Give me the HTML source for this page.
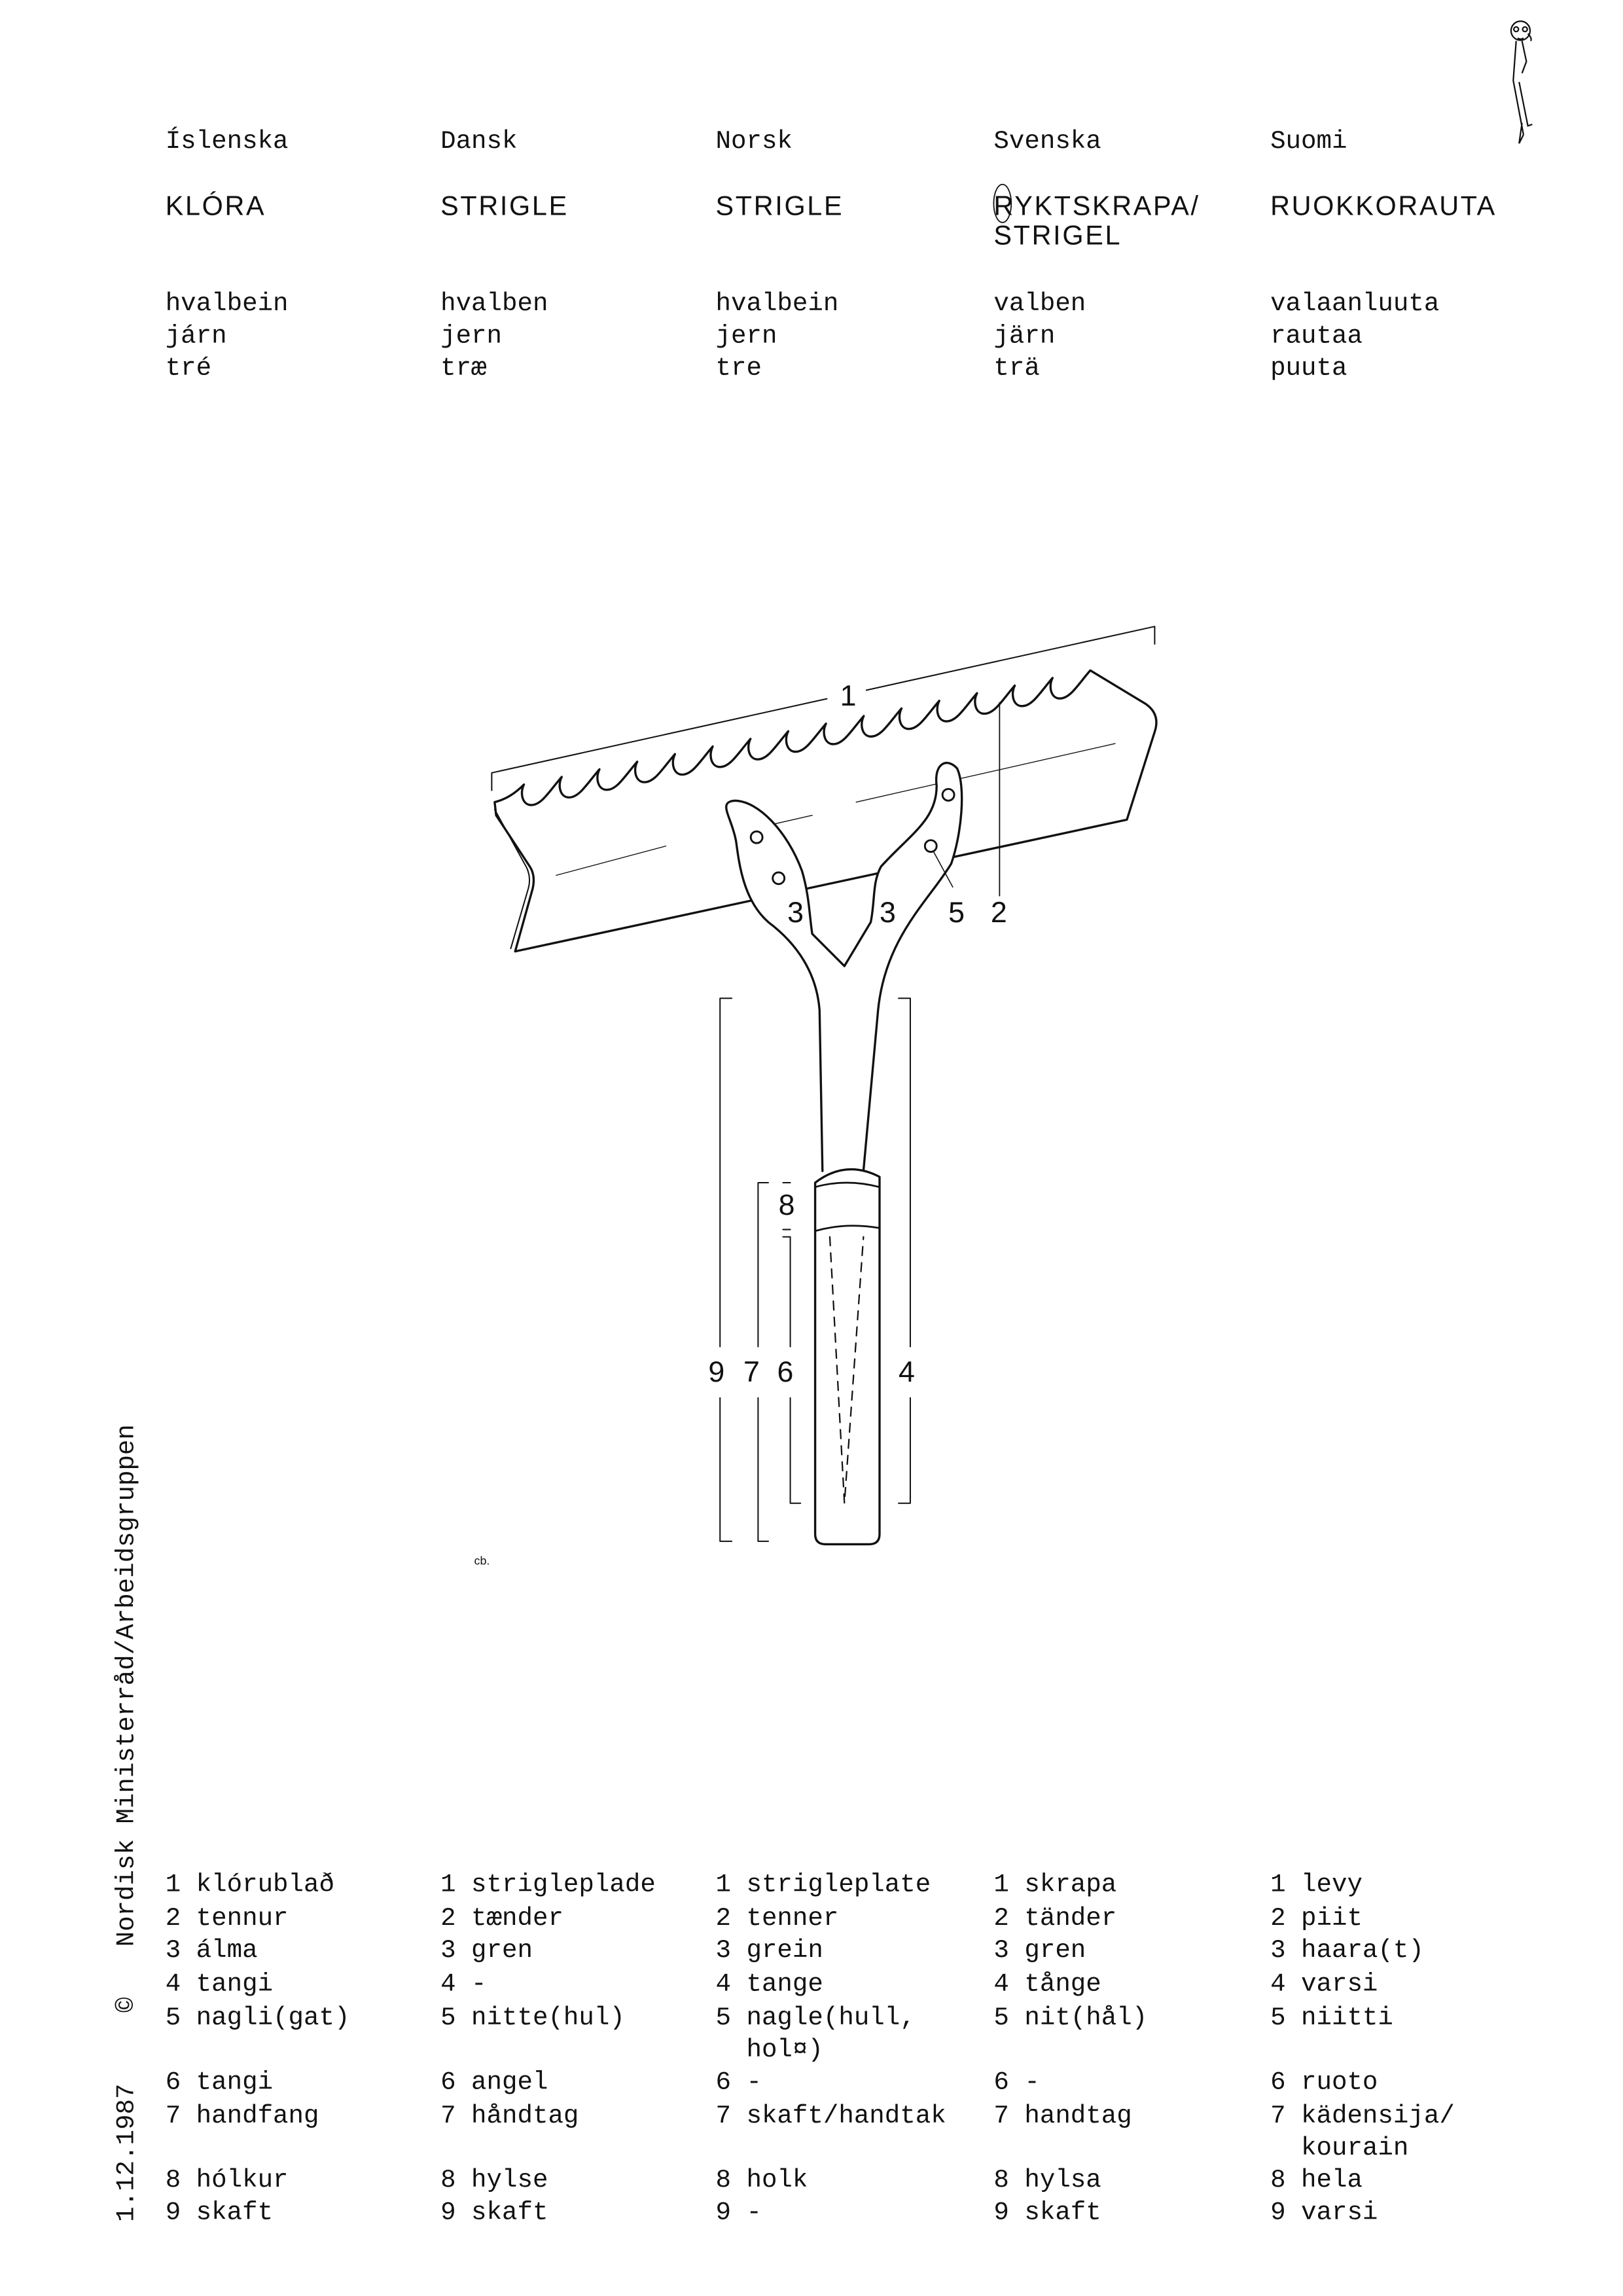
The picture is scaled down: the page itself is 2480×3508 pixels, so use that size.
<!DOCTYPE html>
<html><head><meta charset="utf-8"><style>
html,body{margin:0;padding:0;background:#fff;}
svg{display:block;}
.m{font-family:"Liberation Mono",monospace;font-size:17.5px;fill:#111;}
.s{font-family:"Liberation Sans",sans-serif;font-size:18.5px;fill:#111;letter-spacing:1.2px;}
.n{font-family:"Liberation Sans",sans-serif;font-size:20px;fill:#111;}
</style></head><body>
<svg width="2480" height="3508" viewBox="0 0 1109 1568.6" preserveAspectRatio="none" xmlns="http://www.w3.org/2000/svg">
<rect width="1109" height="1569" fill="#fff"/>
<g class="m">
<text x="113" y="101">Íslenska</text><text x="301" y="101">Dansk</text><text x="489" y="101">Norsk</text><text x="679" y="101">Svenska</text><text x="868" y="101">Suomi</text>
<text x="113" y="212">hvalbein</text><text x="301" y="212">hvalben</text><text x="489" y="212">hvalbein</text><text x="679" y="212">valben</text><text x="868" y="212">valaanluuta</text>
<text x="113" y="234">járn</text><text x="301" y="234">jern</text><text x="489" y="234">jern</text><text x="679" y="234">järn</text><text x="868" y="234">rautaa</text>
<text x="113" y="256">tré</text><text x="301" y="256">træ</text><text x="489" y="256">tre</text><text x="679" y="256">trä</text><text x="868" y="256">puuta</text>
</g>
<g class="s">
<text x="113" y="147">KLÓRA</text><text x="301" y="147">STRIGLE</text><text x="489" y="147">STRIGLE</text><text x="679" y="147">RYKTSKRAPA/</text><text x="679" y="167">STRIGEL</text><text x="868" y="147">RUOKKORAUTA</text>
</g>
<ellipse cx="685" cy="139" rx="6" ry="13" fill="none" stroke="#111" stroke-width="0.8"/>

<!-- doodle -->
<g fill="none" stroke="#111" stroke-width="1">
<circle cx="1039" cy="21" r="6.5"/><circle cx="1036" cy="20" r="1.6"/><circle cx="1042" cy="20" r="1.6"/>
<path d="M1037,26 q2,1.5 4,0 M1044,23 q3,3 2,5 M1036,28 L1034,55 L1041,92 M1040,28 L1043,42 L1040,50 M1038,56 L1044,86 L1047,85 M1040,84 L1038,98 L1041,92"/>
</g>

<!-- drawing -->
<g fill="none" stroke="#111" stroke-linejoin="round" stroke-linecap="round">
<path d="M336,540 L336,528 L565,477.4 M592,471.5 L789,428 L789,440" stroke-width="0.9" fill="none"/>
<path d="M338,548 c8,-2 14,-6 20,-12
 c-3,6 -1,14 5,14 c7,0 12,-9 20.8,-19.2
 c-3,6 -1,14 5,14 c7,0 12,-9 20.8,-19.2
 c-3,6 -1,14 5,14 c7,0 12,-9 20.8,-19.2
 c-3,6 -1,14 5,14 c7,0 12,-9 20.8,-19.2
 c-3,6 -1,14 5,14 c7,0 12,-9 20.8,-19.2
 c-3,6 -1,14 5,14 c7,0 12,-9 20.8,-19.2
 c-3,6 -1,14 5,14 c7,0 12,-9 20.8,-19.2
 c-3,6 -1,14 5,14 c7,0 12,-9 20.8,-19.2
 c-3,6 -1,14 5,14 c7,0 12,-9 20.8,-19.2
 c-3,6 -1,14 5,14 c7,0 12,-9 20.8,-19.2
 c-3,6 -1,14 5,14 c7,0 12,-9 20.8,-19.2
 c-3,6 -1,14 5,14 c7,0 12,-9 20.8,-19.2
 c-3,6 -1,14 5,14 c7,0 12,-9 20.8,-19.2
 c-3,6 -1,14 5,14 c7,0 12,-9 20.8,-19.2
 c-3,6 -1,14 5,14 c7,0 12,-9 20.8,-19.2
 L783,481 Q793,488 789,500 L770,560 L352,650 L364,607 Q366,598 362,592 L339,557 Z" fill="#fff" stroke-width="1.5"/>
<path d="M338,553 L360,593 Q363,600 361,607 L349,648" stroke-width="0.9"/>
<path d="M380,598 L455,578 M520,565 L555,557 M585,548 L762,508" stroke-width="0.6"/>
<path d="M683,480 L683,612" stroke-width="0.8"/>
<path d="M562,800 L560,690 C558,665 545,645 525,630 C508,615 505,590 503,575 C500,558 490,548 502,547 C518,547 538,568 548,595 C553,612 553,625 555,638 L577,660 L595,630 C598,615 596,603 602,592 C622,570 640,560 640,537 C638,520 648,518 654,525 C660,538 657,570 650,590 C635,615 605,640 600,690 L590,800" fill="#fff" stroke-width="1.5"/>
<circle cx="517" cy="572" r="4" stroke-width="1.3"/><circle cx="532" cy="600" r="4" stroke-width="1.3"/>
<circle cx="648" cy="543" r="4" stroke-width="1.3"/><circle cx="636" cy="578" r="4" stroke-width="1.3"/>
<path d="M638,582 L651,606" stroke-width="0.7"/>
<!-- ferrule & handle -->
<path d="M557,840 L557,808 Q578,792 601,804 L601,838" fill="#fff" stroke-width="1.5"/>
<path d="M557,811 Q578,805 601,811" stroke-width="1.2"/>
<path d="M557,841 Q578,835 601,839" stroke-width="1.2"/>
<path d="M557,840 L557,1048 Q557,1055 564,1055 L594,1055 Q601,1055 601,1048 L601,838" stroke-width="1.5"/>
<path d="M567,845 L577,1027 L590,845" stroke-width="1" stroke-dasharray="6,5"/>
<!-- brackets -->
<path d="M500,682 L492,682 L492,920 M492,955 L492,1053 L500,1053" stroke-width="0.9"/>
<path d="M525,808 L518,808 L518,920 M518,955 L518,1053 L525,1053" stroke-width="0.9"/>
<path d="M535,808 L540,808 M535,840 L540,840 M535,845 L540,845 L540,920 M540,955 L540,1027 L547,1027" stroke-width="0.9"/>
<path d="M614,682 L622,682 L622,920 M622,955 L622,1027 L614,1027" stroke-width="0.9"/>
</g>
<g class="n">
<text x="574" y="482">1</text><text x="538" y="630">3</text><text x="601" y="630">3</text><text x="648" y="630">5</text><text x="677" y="630">2</text>
<text x="532" y="830">8</text><text x="484" y="944">9</text><text x="508" y="944">7</text><text x="531" y="944">6</text><text x="614" y="944">4</text>
</g>
<text x="324" y="1069" font-family="Liberation Sans,sans-serif" font-size="8" fill="#111">cb.</text>

<!-- vertical -->
<g class="m">
<text transform="translate(91,1330) rotate(-90)">Nordisk Ministerråd/Arbeidsgruppen</text>
<text transform="translate(91,1375) rotate(-90)">©</text>
<text transform="translate(91,1518) rotate(-90)">1.12.1987</text>
</g>

<!-- legend -->
<g class="m">
<text x="113" y="1292">1 klórublað</text><text x="113" y="1315">2 tennur</text><text x="113" y="1337">3 álma</text><text x="113" y="1360">4 tangi</text><text x="113" y="1383">5 nagli(gat)</text><text x="113" y="1427">6 tangi</text><text x="113" y="1450">7 handfang</text><text x="113" y="1494">8 hólkur</text><text x="113" y="1516">9 skaft</text>
<text x="301" y="1292">1 strigleplade</text><text x="301" y="1315">2 tænder</text><text x="301" y="1337">3 gren</text><text x="301" y="1360">4 -</text><text x="301" y="1383">5 nitte(hul)</text><text x="301" y="1427">6 angel</text><text x="301" y="1450">7 håndtag</text><text x="301" y="1494">8 hylse</text><text x="301" y="1516">9 skaft</text>
<text x="489" y="1292">1 strigleplate</text><text x="489" y="1315">2 tenner</text><text x="489" y="1337">3 grein</text><text x="489" y="1360">4 tange</text><text x="489" y="1383">5 nagle(hull,</text><text x="510" y="1405">hol¤)</text><text x="489" y="1427">6 -</text><text x="489" y="1450">7 skaft/handtak</text><text x="489" y="1494">8 holk</text><text x="489" y="1516">9 -</text>
<text x="679" y="1292">1 skrapa</text><text x="679" y="1315">2 tänder</text><text x="679" y="1337">3 gren</text><text x="679" y="1360">4 tånge</text><text x="679" y="1383">5 nit(hål)</text><text x="679" y="1427">6 -</text><text x="679" y="1450">7 handtag</text><text x="679" y="1494">8 hylsa</text><text x="679" y="1516">9 skaft</text>
<text x="868" y="1292">1 levy</text><text x="868" y="1315">2 piit</text><text x="868" y="1337">3 haara(t)</text><text x="868" y="1360">4 varsi</text><text x="868" y="1383">5 niitti</text><text x="868" y="1427">6 ruoto</text><text x="868" y="1450">7 kädensija/</text><text x="889" y="1472">kourain</text><text x="868" y="1494">8 hela</text><text x="868" y="1516">9 varsi</text>
</g>
</svg>
</body></html>
